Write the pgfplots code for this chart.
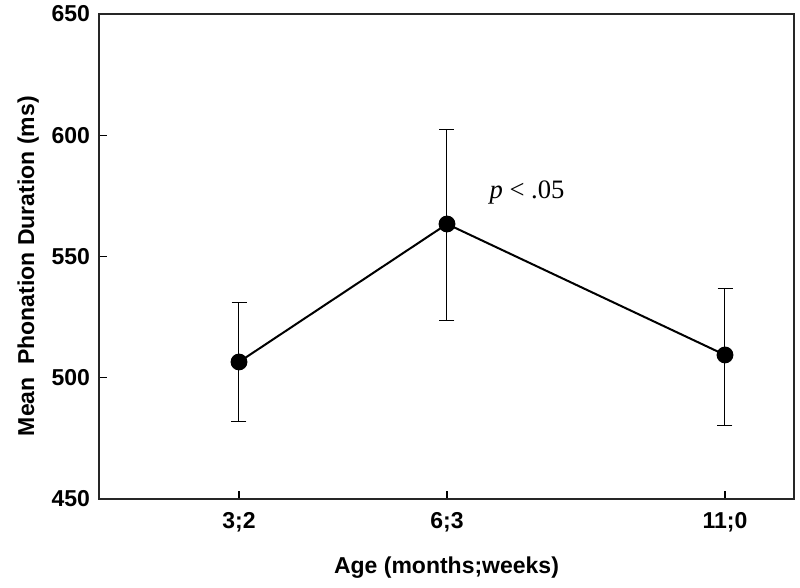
\documentclass[border=0pt]{standalone}
\usepackage{fontspec}
\setmainfont{Liberation Sans}
\newfontfamily\timesfont{Liberation Serif}
\usepackage{pgfplots}
\pgfplotsset{compat=1.18}
\begin{document}
\begin{tikzpicture}
\begin{axis}[
  name=ax,
  scale only axis,
  width=347.5pt, height=242.5pt,
  xmin=99, xmax=794, ymin=450, ymax=650,
  xtick={239,447,725},
  xticklabels={3;2,6;3,11;0},
  ytick={450,500,550,600,650},
  tick align=inside,
  tick pos=left,
  major tick length=4pt,
  axis line style={line width=0.8pt, black!85},
  tick style={line width=0.6pt, black},
  /pgf/number format/assume math mode=true,
  ticklabel style={font=\fontsize{11.5}{13}\selectfont\bfseries},
  xticklabel style={yshift=-3pt},
  yticklabel style={xshift=-1pt},
  xlabel={Age (months;weeks)},
  ylabel={Mean\ \ Phonation Duration (ms)},
  label style={font=\fontsize{11.5}{13}\selectfont\bfseries},
  xlabel style={at={(axis description cs:0.5,-0.142)}, anchor=center},
  ylabel style={at={(axis description cs:-0.102,0.48)}, anchor=center},
  clip=false,
]
\addplot[black, line width=1pt, mark=*, mark size=3.7pt, mark options={solid, fill=black},
  error bars/.cd, y dir=both, y explicit,
  error bar style={line width=0.5pt, black},
  error mark options={rotate=90, mark size=3.75pt, line width=0.5pt, black}]
  coordinates {
  (239,506.5) += (0,24.7) -= (0,24.7)
  (447,563.4) += (0,38.8) -= (0,39.6)
  (725,509.4) += (0,27.6) -= (0,28.9)
  };
\node[font=\timesfont\fontsize{13.3}{15}\selectfont] at (axis cs:527,576.6) {\textit{p} < .05};
\end{axis}
\pgfresetboundingbox
\path (ax.south west) ++(-49.5pt,-44.5pt) coordinate (bl);
\path (ax.north east) ++(3pt,7pt) coordinate (tr);
\path[use as bounding box] (bl) rectangle (tr);
\end{tikzpicture}
\end{document}
